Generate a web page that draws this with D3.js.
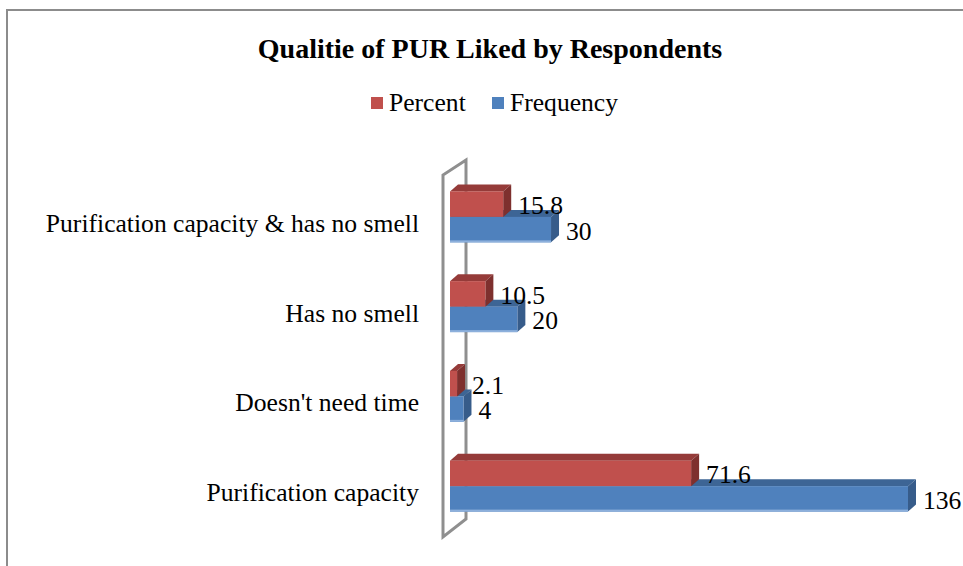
<!DOCTYPE html>
<html lang="en">
<head>
  <meta charset="UTF-8">
  <title>Qualitie of PUR Liked by Respondents</title>
  <script src="https://d3js.org/d3.v7.min.js"></script>
  <style>
    body { margin: 0; background: #fff; }
  </style>
</head>
<body>
  <script>
    // Data (Excel draws the first category at the bottom)
    const categories = ["Purification capacity", "Doesn't need time", "Has no smell", "Purification capacity & has no smell"];
    const percent = [71.6, 2.1, 10.5, 15.8];
    const frequency = [136, 4, 20, 30];
    const seriesNames = ["Percent", "Frequency"];

    const W = 963, H = 566;
    const FONT = '"Liberation Serif"';
    const FS = "25.6px";
    const colors = {
      Percent:   { front: "#C0504D", top: "#953B39", side: "#7E302E" },
      Frequency: { front: "#4F81BD", top: "#3D6595", side: "#375C8A", edge: "#8DB0DC" }
    };
    const depth = { dx: 8, dy: -7 };

    const svg = d3.select("body").append("svg")
      .attr("width", W).attr("height", H);

    // outer chart border (runs off the page on the right and bottom)
    svg.append("rect")
      .attr("x", 7).attr("y", 10)
      .attr("width", W + 20).attr("height", H + 20)
      .attr("fill", "none")
      .attr("stroke", "#8c8c8c")
      .attr("stroke-width", 2);

    // title
    svg.append("text")
      .attr("x", 490).attr("y", 58)
      .attr("text-anchor", "middle")
      .style("font-family", FONT)
      .style("font-size", "28px")
      .style("font-weight", "bold")
      .text("Qualitie of PUR Liked by Respondents");

    // legend
    const legendItems = [
      { name: "Percent", x: 371 },
      { name: "Frequency", x: 492 }
    ];
    const lg = svg.append("g");
    lg.selectAll("rect").data(legendItems).enter().append("rect")
      .attr("x", d => d.x).attr("y", 97)
      .attr("width", 12).attr("height", 12)
      .attr("fill", d => colors[d.name].front);
    lg.selectAll("text").data(legendItems).enter().append("text")
      .attr("x", d => d.x + 18).attr("y", 111)
      .style("font-family", FONT)
      .style("font-size", FS)
      .text(d => d.name);

    // scales
    const x = d3.scaleLinear().domain([0, 136]).range([450, 908]);
    const order = categories.slice().reverse();
    const y = d3.scaleBand()
      .domain(order)
      .range([172, 531])
      .paddingInner(0.432)
      .paddingOuter(0.216);
    const ySub = d3.scaleBand().domain(seriesNames).range([0, y.bandwidth()]);

    // 3D side wall
    const x0 = x(0);
    const wall = [
      [x0 - 7, 537], [x0 - 7, 175], [x0 + 16, 160], [x0 + 16, 519]
    ];
    svg.append("polygon")
      .attr("points", wall.map(p => p.join(",")).join(" "))
      .attr("fill", "none")
      .attr("stroke", "#8f8f8f")
      .attr("stroke-width", 3);

    // category labels
    svg.append("g").selectAll("text")
      .data(categories).enter().append("text")
      .attr("x", 419)
      .attr("y", d => y(d) + y.bandwidth() / 2 + 15)
      .attr("text-anchor", "end")
      .style("font-family", FONT)
      .style("font-size", FS)
      .text(d => d);

    // bar rows: frequency drawn first so percent's front face sits over its top face
    const rows = [];
    categories.forEach((c, i) => {
      rows.push({ cat: c, series: "Frequency", value: frequency[i] });
      rows.push({ cat: c, series: "Percent", value: percent[i] });
    });

    const bars = svg.append("g");
    rows.forEach(r => {
      const x1 = x(0), x2 = x(r.value);
      const y1 = y(r.cat) + ySub(r.series);
      const y2 = y1 + ySub.bandwidth();
      const col = colors[r.series];
      const g = bars.append("g");
      // top face
      g.append("polygon")
        .attr("points", [[x1, y1], [x1 + depth.dx, y1 + depth.dy], [x2 + depth.dx, y1 + depth.dy], [x2, y1]].map(p => p.join(",")).join(" "))
        .attr("fill", col.top);
      // right side face
      g.append("polygon")
        .attr("points", [[x2, y1], [x2 + depth.dx, y1 + depth.dy], [x2 + depth.dx, y2 + depth.dy], [x2, y2]].map(p => p.join(",")).join(" "))
        .attr("fill", col.side);
      // front face
      g.append("rect")
        .attr("x", x1).attr("y", y1)
        .attr("width", x2 - x1).attr("height", y2 - y1)
        .attr("fill", col.front);
      if (col.edge) {
        g.append("rect")
          .attr("x", x1).attr("y", y2 - 2)
          .attr("width", x2 - x1).attr("height", 2)
          .attr("fill", col.edge);
      }
    });

    // value labels
    svg.append("g").selectAll("text")
      .data(rows).enter().append("text")
      .attr("x", d => x(d.value) + depth.dx + 7)
      .attr("y", d => y(d.cat) + ySub(d.series) + ySub.bandwidth() / 2 + 10)
      .style("font-family", FONT)
      .style("font-size", FS)
      .text(d => d.value);
  </script>
</body>
</html>
